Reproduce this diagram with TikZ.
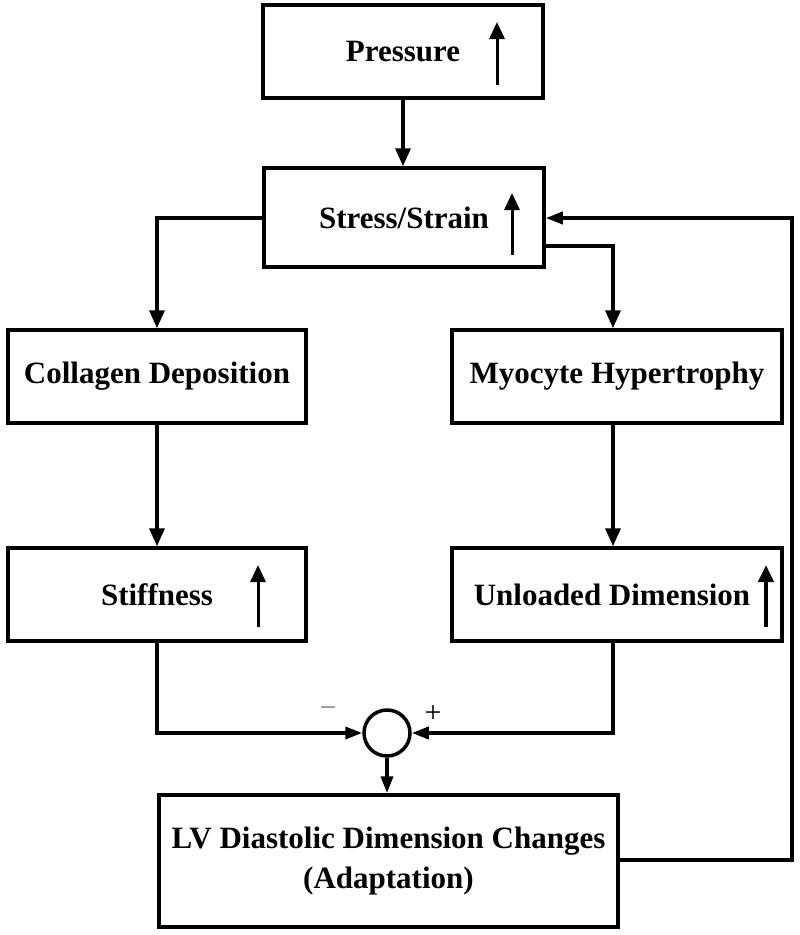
\documentclass[tikz,border=0pt]{standalone}
\usepackage{fontspec}
\setmainfont{Liberation Serif}
\usetikzlibrary{arrows.meta,calc}
\begin{document}
\begin{tikzpicture}[x=1pt,y=-1pt,
  box/.style={draw,line width=3.5pt,inner sep=0pt,font=\fontsize{31}{40}\selectfont\bfseries,align=center},
  conn/.style={line width=3.5pt,-{Triangle[length=18pt,width=15pt]}},
  feed/.style={line width=3.5pt,-{Triangle[length=17pt,width=12pt]}},
  uparr/.style={line width=3pt,-{Triangle[length=17pt,width=15pt]}},
  sumc/.style={draw,circle,line width=3.5pt,minimum size=46pt,inner sep=0pt},
  sign/.style={font=\fontsize{30}{32}\selectfont,inner sep=0pt}]
\useasboundingbox[fill=white] (0,0) rectangle (800,935);
% boxes
\node[box,minimum width=280pt,minimum height=93pt] (pres) at (403,51.5) {Pressure};
\node[box,minimum width=280pt,minimum height=99pt] (stress) at (404,217.5) {Stress/Strain};
\node[box,minimum width=298pt,minimum height=93pt] (coll) at (157,376.5) {Collagen Deposition};
\node[box,minimum width=330pt,minimum height=93pt] (myo) at (617,376.5) {Myocyte Hypertrophy};
\node[box,minimum width=298pt,minimum height=93pt] (stiff) at (157,594.5) {Stiffness};
\node[box,minimum width=330pt,minimum height=93pt] (unl) at (617,594.5) {Unloaded Dimension\hspace{10pt}};
\node[box,minimum width=459pt,minimum height=132pt] (lv) at (388.5,861) {LV Diastolic Dimension Changes\\(Adaptation)};
\node[sumc] (sum) at (387,733) {};
% up arrows inside boxes
\draw[uparr] ($(pres.center)+(94,33.5)$) coordinate (pa1) -- ($(pres.center)+(94,-29.5)$) coordinate (pa2);
\draw[uparr] ($(stress.center)+(108,37.5)$) coordinate (sa1) -- ($(stress.center)+(108,-24.5)$) coordinate (sa2);
\draw[uparr] ($(stiff.center)+(101,32.5)$) coordinate (ta1) -- ($(stiff.center)+(101,-29.5)$) coordinate (ta2);
\draw[uparr,line width=4pt] ($(unl.center)+(149,32.5)$) coordinate (ua1) -- ($(unl.center)+(149,-29.5)$) coordinate (ua2);
% connectors
\draw[conn] (pres.south) -- (pres.south |- stress.north);
\coordinate (sw) at ($(stress.west)+(0,0.5)$);
\draw[conn] (sw) -| (coll.north);
\coordinate (se) at ($(stress.east)+(0,28.5)$);
\coordinate (mtop) at ($(myo.north)+(-4,0)$);
\draw[conn] (se) -| (mtop);
\draw[conn] (coll.south) -- (stiff.north);
\coordinate (mbot) at ($(myo.south)+(-4,0)$);
\coordinate (utop) at ($(unl.north)+(-4,0)$);
\draw[conn] (mbot) -- (utop);
\draw[feed] (stiff.south) |- (sum.west);
\coordinate (ubot) at ($(unl.south)+(-4,0)$);
\draw[feed] (ubot) |- (sum.east);
\draw[feed] (sum.south) -- (sum.south |- lv.north);
\coordinate (lve) at ($(lv.east)+(0,-1)$);
\coordinate (corner) at (792,860);
\coordinate (se2) at ($(stress.east)+(0,0.5)$);
\draw[feed] (lve) -- (corner) |- (se2);
% signs
\node[sign,text=gray] (minus) at (328,712) {−};
\node[sign] (plus) at (433,714) {+};
\end{tikzpicture}
\end{document}
